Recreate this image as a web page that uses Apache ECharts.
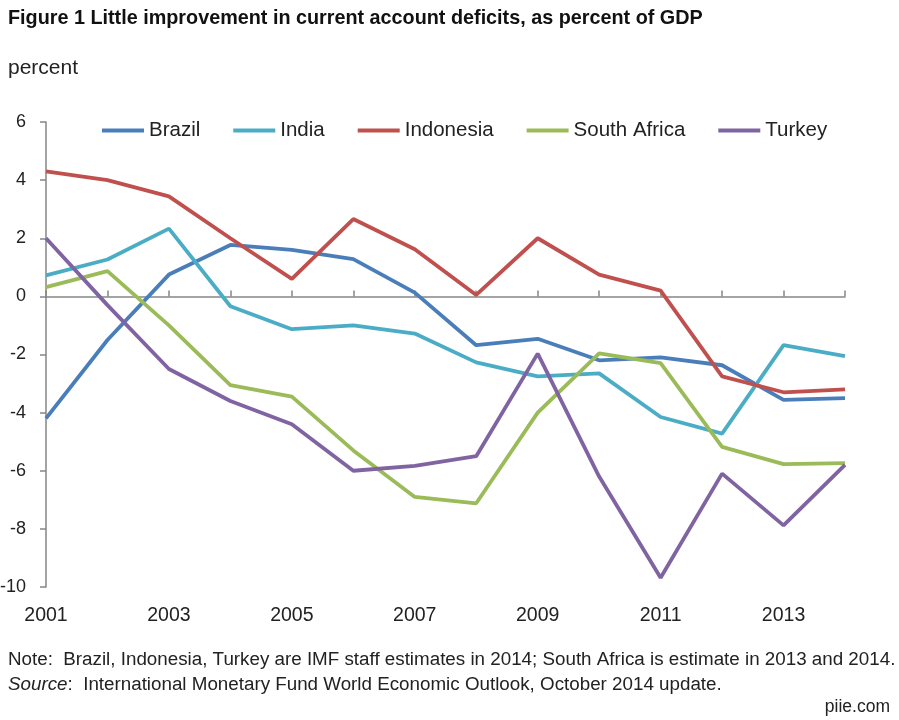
<!DOCTYPE html>
<html><head><meta charset="utf-8">
<script src="https://cdn.jsdelivr.net/npm/echarts@6/dist/echarts.min.js"></script>
<style>html,body{margin:0;padding:0;background:#fff}#c{width:899px;height:720px}</style>
</head><body><div id="c"></div>
<script>
const years = ['2001','2002','2003','2004','2005','2006','2007','2008','2009','2010','2011','2012','2013','2014'];
const brazil = [-4.2,-1.5,0.75,1.77,1.6,1.28,0.13,-1.68,-1.46,-2.2,-2.1,-2.37,-3.56,-3.5];
const india = [0.72,1.27,2.33,-0.34,-1.13,-1.0,-1.28,-2.27,-2.75,-2.65,-4.15,-4.72,-1.68,-2.06];
const indonesia = [4.3,4.0,3.44,2.0,0.6,2.66,1.62,0.05,2.0,0.75,0.2,-2.75,-3.3,-3.2];
const southAfrica = [0.32,0.87,-1.0,-3.05,-3.45,-5.3,-6.9,-7.12,-4.0,-1.96,-2.3,-5.18,-5.77,-5.74];
const turkey = [2.0,-0.3,-2.5,-3.6,-4.4,-6.0,-5.83,-5.5,-1.97,-6.2,-9.68,-6.1,-7.88,-5.8];
const yTicks = {min:-10, max:6, interval:2};

const font = 'Liberation Sans';
const chart = echarts.init(document.getElementById('c'));
const mk = (name, data, color) => ({name, type:'line', data, xAxisIndex:0, symbol:'none',
  lineStyle:{width:3.8, color}, itemStyle:{color}});
chart.setOption({
  animation:false,
  textStyle:{fontFamily:font},
  grid:{left:46, right:54, top:122, bottom:133, containLabel:false, outerBoundsMode:'none'},
  legend:{left:97, top:115, icon:'rect', itemWidth:42, itemHeight:4, itemGap:33,
    textStyle:{fontSize:20.5, color:'#222', fontFamily:font},
    data:['Brazil','India','Indonesia','South Africa','Turkey']},
  xAxis:[
    {type:'category', data:years, boundaryGap:false, position:'bottom',
      axisLine:{show:false, onZero:false}, axisTick:{show:false},
      axisLabel:{interval:1, fontSize:19.5, color:'#222', margin:19, fontFamily:font}},
    {type:'category', data:years, boundaryGap:false,
      axisLine:{show:true, onZero:true, lineStyle:{color:'#868686', width:1.5}},
      axisTick:{show:true, length:6, interval:0, lineStyle:{color:'#868686', width:1.5}},
      axisLabel:{show:false}}
  ],
  yAxis:{type:'value', min:yTicks.min, max:yTicks.max, interval:yTicks.interval,
    axisLine:{show:true, lineStyle:{color:'#868686', width:1.5}},
    axisTick:{show:true, length:6, lineStyle:{color:'#868686', width:1.5}},
    splitLine:{show:false},
    axisLabel:{fontSize:18, color:'#222', margin:20, fontFamily:font}},
  series:[
    mk('Brazil', brazil, '#4a7ebb'),
    mk('India', india, '#4bacc6'),
    mk('Indonesia', indonesia, '#c0504d'),
    mk('South Africa', southAfrica, '#9bbb59'),
    mk('Turkey', turkey, '#8064a2')
  ],
  graphic:[
    {type:'text', left:8, top:9, style:{text:'Figure 1 Little improvement in current account deficits, as percent of GDP', font:'bold 19.8px '+font, fill:'#111'}},
    {type:'text', left:8, top:58, style:{text:'percent', font:'21px '+font, fill:'#222'}},
    {type:'text', left:8, top:650, style:{text:'Note:  Brazil, Indonesia, Turkey are IMF staff estimates in 2014; South Africa is estimate in 2013 and 2014.', font:'18.8px '+font, fill:'#222'}},
    {type:'text', left:8, top:675, style:{rich:{i:{font:'italic 18.8px '+font, fill:'#222'}, n:{font:'18.8px '+font, fill:'#222'}}, text:'{i|Source}{n|:  International Monetary Fund World Economic Outlook, October 2014 update.}'}},
    {type:'text', right:9, top:698, style:{text:'piie.com', font:'17.5px '+font, fill:'#222'}}
  ]
});
</script></body></html>
